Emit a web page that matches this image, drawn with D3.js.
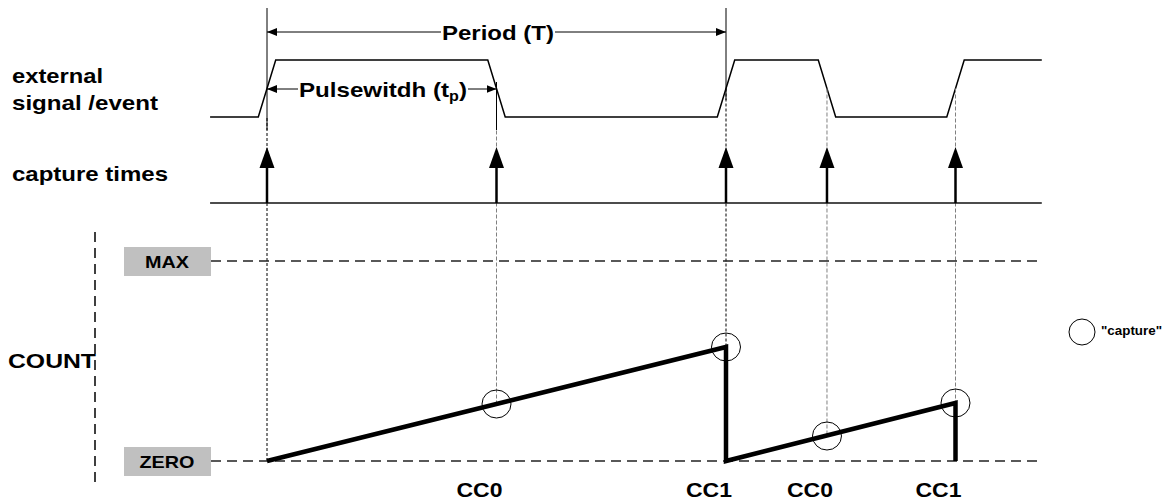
<!DOCTYPE html>
<html>
<head>
<meta charset="utf-8">
<script src="https://cdn.jsdelivr.net/npm/d3@7"></script>
<style>
  body { margin: 0; background: #fff; }
  text { font-family: "Liberation Sans", Arial, sans-serif; font-weight: bold; fill: #000; }
</style>
</head>
<body>
<svg id="diagram" width="1166" height="501"></svg>
<script>
// time axis: one period T = 10 units
var captureTimes = [0, 5, 10, 12.2, 15];
var captureLabels = ["", "CC0", "CC1", "CC0", "CC1"];
var captureCounts = [0, 28.5, 57, 12.5, 29];   // counter value at capture, % of MAX
var edgeTimes = [0, 5, 10, 12.2, 15];          // signal toggles, starts low
var signalSpan = [-1.24, 16.88];
var countTimes = [0, 10, 10, 15, 15];
var countValues = [0, 57, 0, 29, 0];
var levelNames = ["MAX", "ZERO"];
var levelValues = [100, 0];
var rowLabels = [["external", "signal /event"], ["capture times"]];

var svg = d3.select("#diagram");

var x = d3.scaleLinear().domain([0, 10]).range([267, 726]);
var ySig = d3.scaleLinear().domain([0, 1]).range([117, 60]);
var yCount = d3.scaleLinear().domain([0, 100]).range([461, 261]);
var edgeHalf = 0.19;
var captureBase = 203, captureTip = 147;

var defs = svg.append("defs");
defs.append("marker").attr("id", "arr")
    .attr("viewBox", "0 0 10 8").attr("refX", 10).attr("refY", 4)
    .attr("markerWidth", 10).attr("markerHeight", 8).attr("markerUnits", "userSpaceOnUse")
    .attr("orient", "auto-start-reverse")
  .append("path").attr("d", "M0,0L10,4L0,8Z").attr("fill", "#000");

// signal waveform
var sigPts = [[signalSpan[0], 0]];
var level = 0;
edgeTimes.forEach(function (t) {
    sigPts.push([t - edgeHalf, level]);
    level = 1 - level;
    sigPts.push([t + edgeHalf, level]);
});
sigPts.push([signalSpan[1], level]);
var sigLine = d3.line().x(function (d) { return x(d[0]); }).y(function (d) { return ySig(d[1]); });
svg.append("path").attr("d", sigLine(sigPts))
    .attr("fill", "none").attr("stroke", "#000").attr("stroke-width", 1.5);

// dashed capture guides
svg.selectAll("line.guide").data(captureTimes).enter().append("line")
    .attr("class", "guide")
    .attr("x1", function (d) { return x(d); }).attr("x2", function (d) { return x(d); })
    .attr("y1", function (d, i) { return i == 0 ? 118 : ySig(0.5); })
    .attr("y2", function (d, i) { return yCount(captureCounts[i]); })
    .attr("stroke", function (d, i) { return (i == 0 || i == 2) ? "#000" : "#808080"; })
    .attr("stroke-width", 1)
    .attr("stroke-dasharray", function (d, i) { return (i == 0 || i == 2) ? "3,2" : "4,2"; });

// period / pulse width markers
svg.append("line").attr("x1", x(0)).attr("x2", x(0)).attr("y1", 8).attr("y2", 130)
    .attr("stroke", "#000").attr("stroke-width", 1);
svg.append("line").attr("x1", x(10)).attr("x2", x(10)).attr("y1", 8).attr("y2", 100)
    .attr("stroke", "#000").attr("stroke-width", 1);
svg.append("line").attr("x1", x(5)).attr("x2", x(5)).attr("y1", 82).attr("y2", 130)
    .attr("stroke", "#000").attr("stroke-width", 1);

function dimension(t0, t1, y, label, left, right, sub) {
    svg.append("line").attr("x1", x(t0)).attr("x2", left).attr("y1", y).attr("y2", y)
        .attr("stroke", "#000").attr("stroke-width", 1).attr("marker-start", "url(#arr)");
    svg.append("line").attr("x1", right).attr("x2", x(t1)).attr("y1", y).attr("y2", y)
        .attr("stroke", "#000").attr("stroke-width", 1).attr("marker-end", "url(#arr)");
    var t = svg.append("text").attr("x", left + 1).attr("y", y + 7.5)
        .attr("font-size", 21)
        .attr("textLength", right - left - 2).attr("lengthAdjust", "spacingAndGlyphs");
    if (sub) {
        t.append("tspan").text(label);
        t.append("tspan").attr("font-size", 14).attr("dy", 4).text(sub);
        t.append("tspan").attr("dy", -4).text(")");
    } else {
        t.text(label);
    }
}
dimension(0, 10, 32, "Period (T)", 441, 555);
dimension(0, 5, 89, "Pulsewitdh (t", 298, 468, "p");

// capture baseline + arrows
svg.append("line").attr("x1", x(signalSpan[0])).attr("x2", x(signalSpan[1]))
    .attr("y1", captureBase).attr("y2", captureBase)
    .attr("stroke", "#111").attr("stroke-width", 1.5);
var arrows = svg.selectAll("g.cap").data(captureTimes).enter().append("g").attr("class", "cap")
    .attr("transform", function (d) { return "translate(" + x(d) + ",0)"; });
arrows.append("line").attr("x1", 0).attr("x2", 0).attr("y1", captureBase).attr("y2", captureTip + 15)
    .attr("stroke", "#000").attr("stroke-width", 2.5);
arrows.append("path")
    .attr("d", "M0," + captureTip + "L7.5," + (captureTip + 21) + "L-7.5," + (captureTip + 21) + "Z")
    .attr("fill", "#000");

// row labels
svg.selectAll("text.row1").data(rowLabels[0]).enter().append("text").attr("class", "row1")
    .attr("x", 12).attr("y", function (d, i) { return 83 + i * 27; })
    .attr("font-size", 21)
    .attr("textLength", function (d, i) { return i == 0 ? 91 : 146; })
    .attr("lengthAdjust", "spacingAndGlyphs")
    .text(function (d) { return d; });
svg.append("text").attr("x", 12).attr("y", 181).attr("font-size", 21)
    .attr("textLength", 156).attr("lengthAdjust", "spacingAndGlyphs").text(rowLabels[1][0]);

// count axis
svg.append("line").attr("x1", 95).attr("x2", 95).attr("y1", 232).attr("y2", 488)
    .attr("stroke", "#000").attr("stroke-width", 1.5).attr("stroke-dasharray", "10,6");
svg.append("text").attr("x", 8).attr("y", 368).attr("font-size", 20)
    .attr("textLength", 88).attr("lengthAdjust", "spacingAndGlyphs").text("COUNT");

var lv = svg.selectAll("g.level").data(levelValues).enter().append("g").attr("class", "level");
lv.append("line").attr("x1", 211).attr("x2", x(signalSpan[1]))
    .attr("y1", function (d) { return yCount(d); }).attr("y2", function (d) { return yCount(d); })
    .attr("stroke", "#222").attr("stroke-width", 1.3).attr("stroke-dasharray", "10,6");
lv.append("rect").attr("x", 124).attr("width", 87)
    .attr("y", function (d) { return yCount(d) - 14; }).attr("height", 29)
    .attr("fill", "#c0c0c0");
lv.append("text").attr("x", 167).attr("y", function (d) { return yCount(d) + 7; })
    .attr("text-anchor", "middle").attr("font-size", 17)
    .attr("textLength", function (d, i) { return i == 0 ? 44 : 55; })
    .attr("lengthAdjust", "spacingAndGlyphs")
    .text(function (d, i) { return levelNames[i]; });

// counter ramp
var countLine = d3.line()
    .x(function (d, i) { return x(countTimes[i]); })
    .y(function (d) { return yCount(d); });
svg.append("path").attr("d", countLine(countValues))
    .attr("fill", "none").attr("stroke", "#000").attr("stroke-width", 4.5)
    .attr("stroke-linejoin", "miter");

// capture circles
svg.selectAll("ellipse.capc").data(captureTimes.slice(1)).enter().append("ellipse")
    .attr("class", "capc")
    .attr("cx", function (d) { return x(d); })
    .attr("cy", function (d, i) { return yCount(captureCounts[i + 1]); })
    .attr("rx", 14.5).attr("ry", 14)
    .attr("fill", "none").attr("stroke", "#000").attr("stroke-width", 1);

// CC labels
svg.selectAll("text.cc").data(captureTimes.slice(1)).enter().append("text").attr("class", "cc")
    .attr("x", function (d) { return x(d) + 6; }).attr("y", 497)
    .attr("text-anchor", "end").attr("font-size", 20)
    .attr("textLength", 46).attr("lengthAdjust", "spacingAndGlyphs")
    .text(function (d, i) { return captureLabels[i + 1]; });

// legend
svg.append("circle").attr("cx", 1082).attr("cy", 332).attr("r", 13)
    .attr("fill", "none").attr("stroke", "#000").attr("stroke-width", 1);
svg.append("text").attr("x", 1101).attr("y", 335).attr("font-size", 13)
    .attr("textLength", 61).attr("lengthAdjust", "spacingAndGlyphs").text("\"capture\"");
</script>
</body>
</html>
